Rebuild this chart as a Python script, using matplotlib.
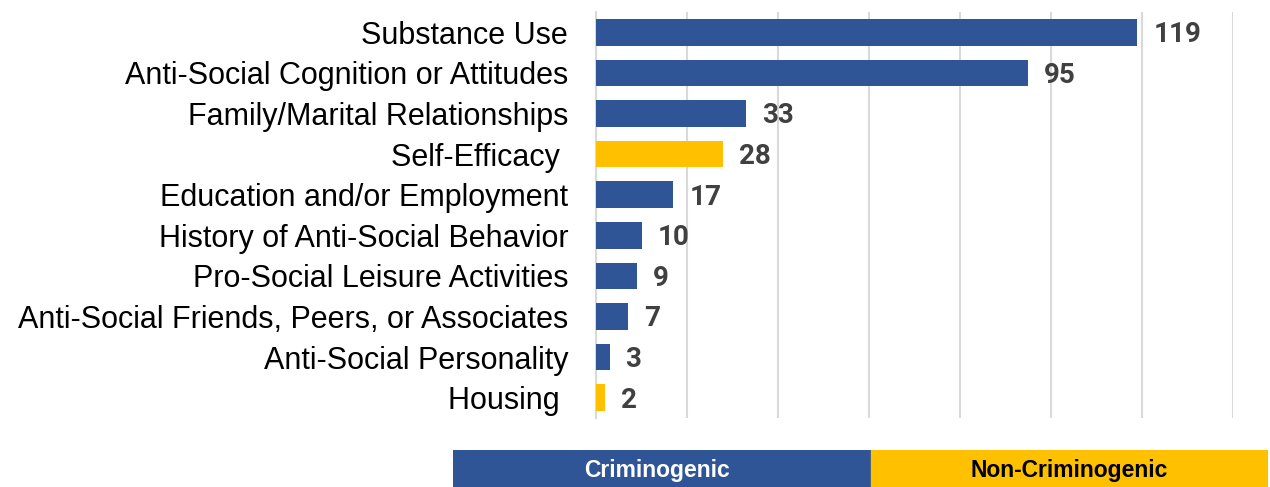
import matplotlib
matplotlib.use('Agg')
import matplotlib.pyplot as plt
from matplotlib.patches import Rectangle

# Données
categories = ['Substance Use', 'Anti-Social Cognition or Attitudes', 'Family/Marital Relationships',
              'Self-Efficacy ', 'Education and/or Employment', 'History of Anti-Social Behavior',
              'Pro-Social Leisure Activities', 'Anti-Social Friends, Peers, or Associates',
              'Anti-Social Personality', 'Housing ']
values = [119, 95, 33, 28, 17, 10, 9, 7, 3, 2]
groups = ['Criminogenic', 'Criminogenic', 'Criminogenic', 'Non-Criminogenic', 'Criminogenic',
          'Criminogenic', 'Criminogenic', 'Criminogenic', 'Criminogenic', 'Non-Criminogenic']
legend_labels = ['Criminogenic', 'Non-Criminogenic']

BLUE = '#2F5597'
YELLOW = '#FFC000'
colors = {'Criminogenic': BLUE, 'Non-Criminogenic': YELLOW}

W, H = 1270, 487
fig = plt.figure(figsize=(W / 100, H / 100), dpi=100)
ax = fig.add_axes([596 / W, 1 - 418 / H, (1233 - 596) / W, (418 - 12) / H])

y = list(range(len(categories)))
ax.barh(y, values, height=0.66, color=[colors[g] for g in groups], zorder=3)
for yi, v in zip(y, values):
    ax.text(v + 3.5, yi + 0.06, str(v), va='center', ha='left', fontsize=20,
            fontweight='bold', color='#404040', family='Roboto')

ax.set_xlim(0, 140)
ax.set_ylim(len(categories) - 0.5, -0.5)
ax.set_xticks(range(0, 141, 20))
ax.xaxis.grid(True, color='#D9D9D9', linewidth=1.5, zorder=0)
ax.tick_params(axis='x', length=0, labelbottom=False)
ax.tick_params(axis='y', length=0, pad=20)
ax.set_yticks(y)
ax.set_yticklabels(categories, fontsize=22, family='Liberation Sans', color='black')
for s in ['top', 'right', 'bottom']:
    ax.spines[s].set_visible(False)
ax.spines['left'].set_color('#D9D9D9')
ax.spines['left'].set_linewidth(1.5)

# Légende en bandeau
lax = fig.add_axes([453 / W, 0, (1268 - 453) / W, 37 / H])
lax.set_xlim(0, 2)
lax.set_ylim(0, 1)
lax.axis('off')
for i, lab in enumerate(legend_labels):
    lax.add_patch(Rectangle((i * 1.025 if i else 0, 0), 1.025 if i == 0 else 0.975, 1,
                            color=colors[lab]))
    cx = 0.5 if i == 0 else 1.025 + 0.4875
    lax.text(cx, 0.45, lab, ha='center', va='center', fontsize=16.5, fontweight='bold',
             color='white' if i == 0 else 'black', family='Liberation Sans')

plt.savefig('out.png', dpi=100)
